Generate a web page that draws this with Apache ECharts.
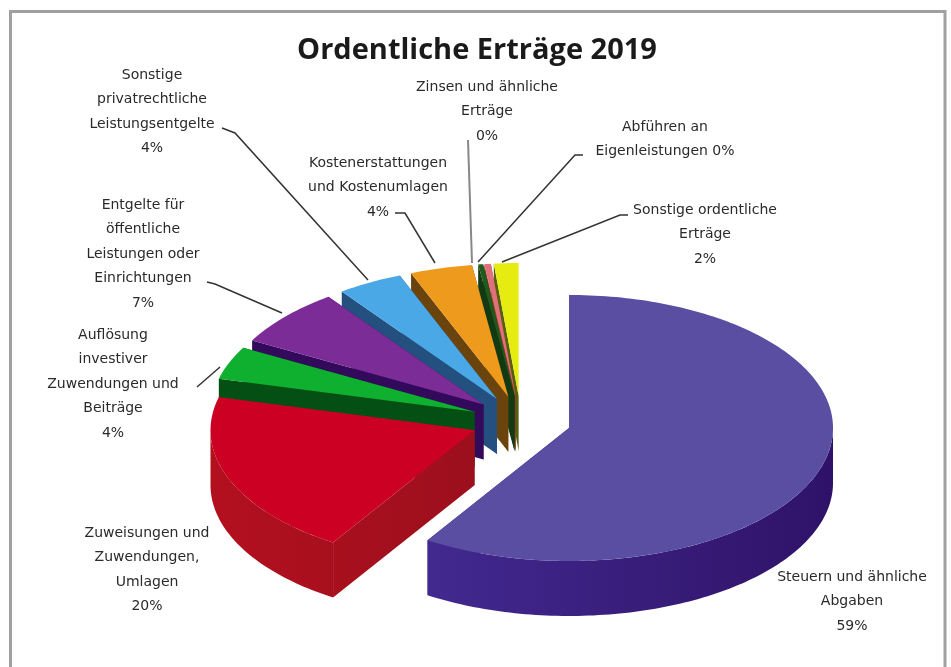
<!DOCTYPE html>
<html><head><meta charset="utf-8">
<style>html,body{margin:0;padding:0;background:#fff}#c{width:951px;height:667px}</style>
<script src="https://cdn.jsdelivr.net/npm/echarts@6/dist/echarts.min.js"></script>
</head><body><div id="c"></div>
<script>
// Data, clockwise from 12 o'clock
const categories = [
  "Steuern und ähnliche\nAbgaben",
  "Zuweisungen und\nZuwendungen,\nUmlagen",
  "Auflösung\ninvestiver\nZuwendungen und\nBeiträge",
  "Entgelte für\nöffentliche\nLeistungen oder\nEinrichtungen",
  "Sonstige\nprivatrechtliche\nLeistungsentgelte",
  "Kostenerstattungen\nund Kostenumlagen",
  "Zinsen und ähnliche\nErträge",
  "Abführen an\nEigenleistungen",
  "Sonstige ordentliche\nErträge"
];
const values = [59, 20, 4, 7, 4, 3.8, 0.3, 0.4, 1.5];
const percentLabels = ["59%", "20%", "4%", "7%", "4%", "4%", "0%", "0%", "2%"];

// Styles and layout
const topColors  = ["#5a4ea3", "#cc0022", "#0fb02f", "#7b2c96", "#4aa8e6", "#ee9a1c", "#1f5a1f", "#e0707a", "#e6ec10"];
const sideLeft   = ["#42298f", "#b3101f", "#044f14", "#33095c", "#23507f", "#6b430c", "#123a12", "#8a4020", "#56600c"];
const sideRight  = ["#2f1268", "#9c0f1c", "#044f14", "#33095c", "#23507f", "#6b430c", "#123a12", "#8a4020", "#56600c"];
const CX = 521, CY = 421, RX = 264, RY = 133, DEPTH = 55, EXPLODE = 50;
const drawOrder = [8, 7, 6, 5, 4, 3, 2, 1, 0];
const labelLayout = [
  {x: 852, y: 565, leader: null},
  {x: 147, y: 521, leader: null},
  {x: 113, y: 323, leader: [[197, 387], [220, 367]]},
  {x: 143, y: 193, leader: [[207, 282], [215, 284], [282, 313]]},
  {x: 152, y: 63,  leader: [[222, 128], [235, 133], [368, 280]]},
  {x: 378, y: 151, leader: [[395, 213], [405, 213], [435, 263]]},
  {x: 487, y: 75,  leader: [[468, 140], [472, 263]], color: '#888', width: 2},
  {x: 665, y: 115, oneLine: true, leader: [[583, 155], [575, 155], [478, 262]]},
  {x: 705, y: 198, leader: [[628, 215], [620, 215], [502, 262]]}
];
const LINE_H = 24.5;

const total = values.reduce((a, b) => a + b, 0);
const slices = [];
let acc = 0;
values.forEach((v, i) => {
  const a = acc / total * 2 * Math.PI; acc += v;
  const b = acc / total * 2 * Math.PI;
  const mid = (a + b) / 2;
  slices.push({a, b,
    ax: CX + EXPLODE * Math.sin(mid),
    ay: CY - EXPLODE * 0.5 * Math.cos(mid)});
});

function arcPoints(s, a, b) {
  const pts = [];
  const n = Math.max(2, Math.ceil((b - a) / 0.02));
  for (let k = 0; k <= n; k++) {
    const t = a + (b - a) * k / n;
    pts.push([s.ax + RX * Math.sin(t), s.ay - RY * Math.cos(t)]);
  }
  return pts;
}

function renderSlice(params, api) {
  const i = api.value(0);
  const s = slices[i];
  const rim = arcPoints(s, s.a, s.b);
  const apex = [s.ax, s.ay];
  const down = p => [p[0], p[1] + DEPTH];
  const xs = rim.map(p => p[0]).concat(apex[0]);
  const side = {fill: new echarts.graphic.LinearGradient(
    Math.min(...xs), 0, Math.max(...xs), 0,
    [{offset: 0, color: sideLeft[i]}, {offset: 1, color: sideRight[i]}], true)};
  const children = [];
  const quad = (p, q) => children.push({type: 'polygon', shape: {points: [p, q, down(q), down(p)]}, style: side});
  quad(apex, rim[0]);
  quad(apex, rim[rim.length - 1]);
  // Outer wall: only the front-facing part of the rim (90 to 270 degrees) can be seen
  const fa = Math.max(s.a, Math.PI / 2), fb = Math.min(s.b, Math.PI * 1.5);
  if (fb > fa) {
    const front = arcPoints(s, fa, fb);
    children.push({type: 'polygon', shape: {points: front.concat(front.map(down).reverse())}, style: side});
  }
  children.push({type: 'polygon', shape: {points: [apex].concat(rim)}, style: {fill: topColors[i]}});
  return {type: 'group', children};
}

const orderedData = drawOrder.map(i => [i, values[i]]);

const graphics = [
  {type: 'rect', shape: {x: 10.5, y: 11.5, width: 934.5, height: 670}, style: {fill: '#fff', stroke: '#a0a0a0', lineWidth: 3}, silent: true, z: -1}
];
labelLayout.forEach((l, i) => {
  const joiner = l.oneLine ? " " : "\n";
  graphics.push({type: 'text', x: l.x, y: l.y, z: 5, style: {
    text: categories[i] + joiner + percentLabels[i],
    font: '14px "DejaVu Sans", sans-serif', fill: '#2a2a2a',
    align: 'center', verticalAlign: 'top', lineHeight: LINE_H}});
  if (l.leader) graphics.push({type: 'polyline', z: 6, shape: {points: l.leader},
    style: {stroke: l.color || '#333', lineWidth: l.width || 1.5, fill: 'none'}});
});

const chart = echarts.init(document.getElementById('c'), null, {renderer: 'canvas'});
chart.setOption({
  animation: false,
  backgroundColor: '#fff',
  title: {text: 'Ordentliche Erträge 2019', left: 472, top: 31, textAlign: 'center',
    textStyle: {fontFamily: '"Open Sans", sans-serif', fontSize: 29, fontWeight: 'bold', color: '#1a1a1a'}},
  series: [{type: 'custom', coordinateSystem: 'none', renderItem: renderSlice,
    data: orderedData, encode: {value: 1}, silent: true, z: 2}],
  graphic: graphics
});
</script></body></html>
